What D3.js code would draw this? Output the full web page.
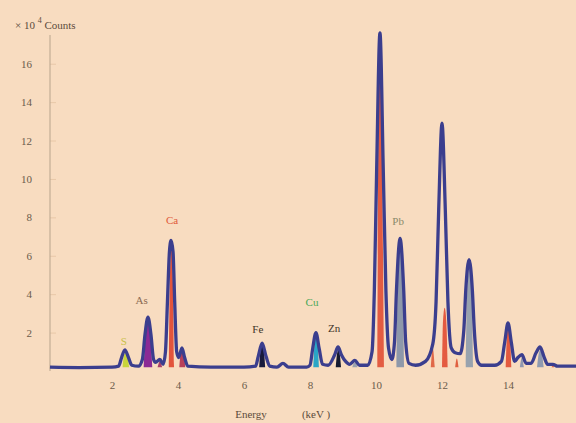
<!DOCTYPE html>
<html>
<head>
<meta charset="utf-8">
<script src="https://cdn.jsdelivr.net/npm/d3@7"></script>
<style>
  html, body { margin: 0; padding: 0; background: #f8dcc0; }
  svg { display: block; }
  text { font-family: "Liberation Serif", "DejaVu Serif", serif; }
</style>
</head>
<body>
<script>
var w = 576;
var h = 423;

// y tick values (x 10^4 counts) and x tick values (keV)
var yTicks = [2, 4, 6, 8, 10, 12, 14, 16];
var xTicks = [2, 4, 6, 8, 10, 12, 14];

// measured spectrum outline: [energy keV, counts x10^4]
var spectrum = [
	[0.12, 0.2], [1.0, 0.18], [2.0, 0.2], [2.2, 0.25],
	[2.29, 0.7], [2.39, 1.1], [2.5, 0.7], [2.6, 0.3], [2.8, 0.25],
	[2.92, 0.6], [3.0, 1.9], [3.09, 2.8], [3.18, 1.9], [3.26, 0.6],
	[3.32, 0.45], [3.45, 0.6], [3.55, 0.35],
	[3.62, 1.0], [3.68, 3.6], [3.74, 6.2], [3.79, 6.8], [3.85, 6.2], [3.9, 3.6], [3.96, 1.0],
	[4.02, 0.7], [4.12, 1.2], [4.2, 0.7], [4.3, 0.25],
	[5.0, 0.2], [6.0, 0.2], [6.35, 0.25],
	[6.43, 0.75], [6.55, 1.45], [6.67, 0.75], [6.78, 0.25],
	[7.0, 0.2], [7.18, 0.4], [7.35, 0.2], [7.9, 0.2], [8.0, 0.3],
	[8.08, 1.15], [8.18, 2.0], [8.28, 1.15], [8.38, 0.35], [8.55, 0.3],
	[8.75, 0.85], [8.85, 1.25], [8.95, 0.85], [9.08, 0.5], [9.2, 0.35],
	[9.36, 0.55], [9.5, 0.3], [9.75, 0.3],
	[9.88, 1.0], [9.95, 4.2], [10.02, 10.5], [10.12, 17.6], [10.22, 10.5], [10.3, 4.2], [10.38, 1.2], [10.48, 0.6],
	[10.56, 1.5], [10.62, 4.2], [10.73, 6.9], [10.84, 4.2], [10.9, 1.5], [11.0, 0.4],
	[11.2, 0.3], [11.5, 0.5], [11.72, 1.4],
	[11.82, 3.6], [11.9, 8.4], [12.0, 12.9], [12.1, 8.4], [12.18, 3.6], [12.28, 1.2], [12.4, 0.95], [12.55, 0.9],
	[12.66, 2.1], [12.72, 4.2], [12.82, 5.8], [12.92, 4.2], [12.98, 2.1], [13.08, 0.5],
	[13.2, 0.3], [13.6, 0.3], [13.8, 0.5],
	[13.9, 1.5], [14.0, 2.5], [14.1, 1.5], [14.2, 0.5], [14.3, 0.7], [14.42, 0.85], [14.55, 0.4],
	[14.7, 0.4], [14.85, 0.95], [14.97, 1.25], [15.1, 0.7], [15.2, 0.35], [15.36, 0.35], [15.5, 0.25], [16.06, 0.25]
];

// coloured element lines inside the peaks
var fillColors = ["#c8d43c", "#8b2a95", "#a8406a", "#e2543c", "#b8405a", "#181a3c", "#2aa6c6",
	"#161a30", "#9aa2ae", "#e35c42", "#8e98aa", "#e06848", "#e45a40", "#e06040", "#98a2ae",
	"#e35a40", "#9098b0", "#8f9ab0", "#e06848"];
var fillPeaks = [
	[[2.32, 0.2], [2.36, 0.8], [2.41, 0.95], [2.47, 0.7], [2.52, 0.2]],
	[[2.96, 0.2], [3.01, 1.7], [3.09, 2.65], [3.17, 1.7], [3.22, 0.2]],
	[[3.38, 0.2], [3.45, 0.5], [3.52, 0.2]],
	[[3.72, 0.2], [3.75, 4.5], [3.8, 6.6], [3.85, 4.5], [3.88, 0.2]],
	[[4.04, 0.2], [4.08, 0.9], [4.13, 1.05], [4.18, 0.9], [4.22, 0.2]],
	[[6.46, 0.2], [6.5, 1.1], [6.55, 1.35], [6.6, 1.1], [6.64, 0.2]],
	[[8.1, 0.2], [8.14, 1.5], [8.18, 1.85], [8.23, 1.5], [8.27, 0.2]],
	[[8.78, 0.2], [8.82, 0.9], [8.86, 1.1], [8.9, 0.9], [8.94, 0.2]],
	[[9.28, 0.2], [9.36, 0.45], [9.44, 0.2]],
	[[10.04, 0.2], [10.07, 12], [10.12, 17.4], [10.18, 12], [10.24, 0.2]],
	[[10.62, 0.2], [10.66, 4.5], [10.74, 6.6], [10.81, 4.5], [10.85, 0.2]],
	[[11.66, 0.2], [11.72, 1.2], [11.78, 0.2]],
	[[12.0, 0.2], [12.03, 2.6], [12.08, 3.3], [12.13, 2.6], [12.17, 0.2]],
	[[12.4, 0.2], [12.45, 0.65], [12.5, 0.2]],
	[[12.72, 0.2], [12.76, 4.0], [12.83, 5.4], [12.9, 4.0], [12.94, 0.2]],
	[[13.93, 0.2], [13.97, 1.9], [14.01, 2.35], [14.06, 1.9], [14.1, 0.2]],
	[[14.36, 0.2], [14.42, 0.7], [14.48, 0.2]],
	[[14.88, 0.2], [14.93, 0.9], [14.98, 1.1], [15.03, 0.9], [15.08, 0.2]],
	[[15.32, 0.2], [15.36, 0.3], [15.4, 0.2]]
];

// element labels
var labelNames = ["S", "As", "Ca", "Fe", "Cu", "Zn", "Pb"];
var labelPos = [[2.36, 1.35], [2.9, 3.5], [3.82, 7.65], [6.42, 2.0], [8.06, 3.4], [8.73, 2.05], [10.67, 7.6]];
var labelColors = ["#c8c048", "#8a6a52", "#e05a3a", "#3e3428", "#48a858", "#3e3428", "#8a8a6a"];

var xScale = d3.scaleLinear()
				.domain([0, 16])
				.range([46, 574]);

var yScale = d3.scaleLinear()
				.domain([0, 17.6])
				.range([371, 33]);

var svg = d3.select("body")
			.append("svg")
			.attr("width", w)
			.attr("height", h);

svg.append("rect")
	.attr("width", w)
	.attr("height", h)
	.attr("fill", "#f8dcc0");

// y axis
var yAxis = d3.axisLeft(yScale)
				.tickValues(yTicks)
				.tickSize(-6)
				.tickPadding(18);

var gy = svg.append("g")
			.attr("transform", "translate(50,0)")
			.call(yAxis);
gy.select(".domain").remove();
gy.selectAll(".tick line").attr("stroke", "#e8c8a8");
gy.selectAll(".tick text")
	.attr("fill", "#6b5b4b")
	.style("font-size", "11px");

svg.append("line")
	.attr("x1", 50).attr("x2", 50)
	.attr("y1", 35).attr("y2", yScale(0))
	.attr("stroke", "#b8a48c")
	.attr("stroke-width", 1);

// x axis (labels only)
var xAxis = d3.axisBottom(xScale)
				.tickValues(xTicks)
				.tickSize(0)
				.tickPadding(10);

var gx = svg.append("g")
			.attr("transform", "translate(0," + yScale(0) + ")")
			.call(xAxis);
gx.select(".domain").remove();
gx.selectAll(".tick text")
	.attr("fill", "#6b5b4b")
	.style("font-size", "11px");

// coloured peak fills
var area = d3.area()
			.x(function(d) { return xScale(d[0]); })
			.y0(yScale(0.2))
			.y1(function(d) { return yScale(d[1]); })
			.curve(d3.curveMonotoneX);

svg.selectAll("path.fill")
	.data(fillPeaks)
	.enter()
	.append("path")
	.attr("class", "fill")
	.attr("d", area)
	.attr("fill", function(d, i) { return fillColors[i]; });

// spectrum outline
var line = d3.line()
			.x(function(d) { return xScale(d[0]); })
			.y(function(d) { return yScale(d[1]); })
			.curve(d3.curveMonotoneX);

svg.append("path")
	.datum(spectrum)
	.attr("d", line)
	.attr("fill", "none")
	.attr("stroke", "#3b3e8e")
	.attr("stroke-width", 3.3)
	.attr("stroke-linejoin", "round");

// element labels
svg.selectAll("text.el")
	.data(labelNames)
	.enter()
	.append("text")
	.attr("class", "el")
	.attr("x", function(d, i) { return xScale(labelPos[i][0]); })
	.attr("y", function(d, i) { return yScale(labelPos[i][1]); })
	.attr("text-anchor", "middle")
	.attr("fill", function(d, i) { return labelColors[i]; })
	.style("font-size", "11px")
	.text(function(d) { return d; });

// unit label at top
var unit = svg.append("text")
			.attr("x", 15)
			.attr("y", 29)
			.attr("fill", "#5b4b3b")
			.style("font-size", "11px");
unit.append("tspan").text("\u00d7 10 ");
unit.append("tspan").attr("dy", -6).style("font-size", "8px").text("4");
unit.append("tspan").attr("dy", 6).text(" Counts");

// x axis title
svg.append("text")
	.attr("x", 251)
	.attr("y", 418)
	.attr("text-anchor", "middle")
	.attr("fill", "#5b4b3b")
	.style("font-size", "11px")
	.text("Energy");

svg.append("text")
	.attr("x", 316)
	.attr("y", 418)
	.attr("text-anchor", "middle")
	.attr("fill", "#5b4b3b")
	.style("font-size", "11px")
	.text("(keV )");
</script>
</body>
</html>
